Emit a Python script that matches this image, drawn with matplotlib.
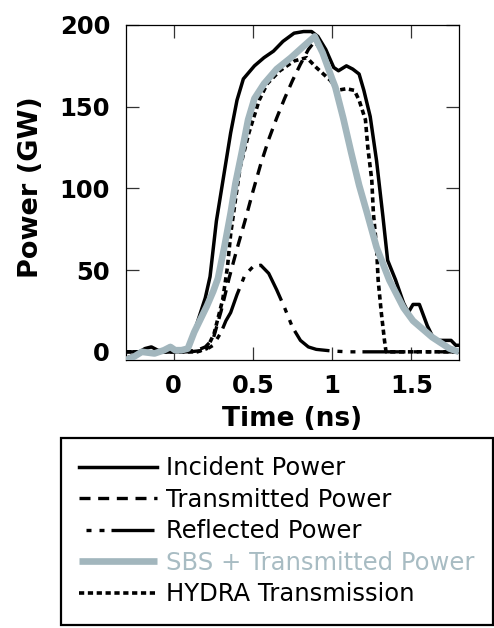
import matplotlib
matplotlib.use("Agg")
import matplotlib.pyplot as plt

# ---- data ----
t_inc = [-0.30,-0.25,-0.18,-0.14,-0.10,-0.05,0.00,0.05,0.09,0.13,0.17,0.20,0.23,0.27,0.31,0.36,
         0.40,0.44,0.51,0.57,0.63,0.69,0.76,0.82,0.87,0.91,0.96,1.01,1.04,1.09,1.13,1.17,1.20,
         1.24,1.28,1.32,1.35,1.40,1.45,1.48,1.51,1.55,1.60,1.64,1.68,1.75,1.78,1.80]
p_inc = [-4,-2,2,3,1,0,1,0.5,2,12,24,33,46,80,104,134,
         154,167,175,180,184,190,195,196,196,193,185,174,172,175,173,170,160,
         144,117,83,56,44,30,24,29,29,16,8,7,7,4,4]

t_tr = [-0.30,-0.10,0.05,0.15,0.20,0.25,0.30,0.35,0.40,0.45,0.50,0.55,0.60,0.65,0.70,0.75,0.80,0.85,
        0.89,0.94,1.00,1.07,1.12,1.17,1.22,1.28,1.36,1.45,1.51,1.63,1.74,1.80]
p_tr = [0,0,0,1,3,8,25,45,63,80,98,115,130,143,155,166,176,185,
        190,183,167,143,122,102,85,64,44,27,19,9,2,0]

t_ref = [-0.30,0.10,0.20,0.25,0.30,0.33,0.36,0.40,0.45,0.50,0.55,0.60,0.65,0.70,0.75,0.80,0.85,0.90,0.95,1.00,1.10,1.80]
p_ref = [0,0,1,4,12,19,24,35,47,52,53,48,38,27,15,7,3,1.5,1,0.5,0,0]

t_sbs = [-0.30,-0.25,-0.20,-0.12,-0.06,-0.02,0.01,0.05,0.09,0.13,0.17,0.21,0.25,0.28,0.32,0.36,0.39,0.43,0.47,0.51,
         0.57,0.65,0.74,0.82,0.89,0.94,1.00,1.02,1.07,1.12,1.17,1.22,1.28,1.36,1.45,1.51,1.63,1.74,1.80]
p_sbs = [-5,-3,0,-1,1,3,1,1,2,12,20,28,37,45,64,85,103,122,142,155,
         164,173,180,187,193,183,167,162,143,122,102,85,64,44,27,19,9,2,0]

t_hy = [-0.30,0.15,0.21,0.255,0.31,0.34,0.36,0.39,0.42,0.475,0.54,0.59,0.67,0.76,0.84,0.90,0.99,1.03,1.09,1.14,
        1.17,1.21,1.225,1.25,1.26,1.28,1.29,1.31,1.33,1.34,1.80]
p_hy = [0,0,2,11,32,52,72,93,113,134,154,164,172,178,180,174,166,160,161,160,
        154,142,125,105,85,64,44,24,7,0,0]

labels = ["Incident Power", "Transmitted Power", "Reflected Power",
          "SBS + Transmitted Power", "HYDRA Transmission"]
x_ticks = [0, 0.5, 1, 1.5]
x_tick_labels = ["0", "0.5", "1", "1.5"]
y_ticks = [0, 50, 100, 150, 200]

GRAY = "#a2b6bd"

plt.rcParams['font.family'] = ['DejaVu Sans']

fig = plt.figure(figsize=(4.94, 6.28), dpi=100)
ax = fig.add_axes([126/494, 1-360/628, 333/494, 335/628])

ax.plot(t_inc, p_inc, color="black", lw=2.5, label=labels[0], zorder=3)
ax.plot(t_tr, p_tr, color="black", lw=2.4, linestyle=(0, (3.3, 2.3)), label=labels[1], zorder=2)
ax.plot(t_ref, p_ref, color="black", lw=2.4,
        linestyle=(20.7, (1.5, 2.4, 1.5, 2.1, 12.9, 2.4)), label=labels[2], zorder=2)
ax.plot(t_sbs, p_sbs, color=GRAY, lw=4.8, label=labels[3], zorder=4, solid_capstyle="butt")
ax.plot(t_hy, p_hy, color="black", lw=2.6, linestyle=(0, (1.45, 1.0)), label=labels[4], zorder=2)

ax.set_xlim(-0.3, 1.8)
ax.set_ylim(-5, 200)
ax.set_xticks(x_ticks)
ax.set_xticklabels(x_tick_labels)
ax.set_yticks(y_ticks)

ax.tick_params(axis="both", which="both", direction="in", length=9.5, width=0.9,
               top=True, right=True, labelsize=17.5, color="#333333")
ax.tick_params(axis="x", pad=10)
ax.tick_params(axis="y", pad=11.5)
for lab in ax.get_xticklabels() + ax.get_yticklabels():
    lab.set_fontweight("bold")
for s in ax.spines.values():
    s.set_linewidth(0.9)

ax.set_xlabel("Time (ns)", fontsize=19, fontweight="bold")
ax.xaxis.set_label_coords(0.5, -0.137)
ax.xaxis.label.set_va("top")
ax.set_ylabel("Power (GW)", fontsize=19.5, fontweight="bold")
ax.yaxis.set_label_coords(-0.246, 0.516)

leg = fig.legend(loc="upper left",
                 bbox_to_anchor=(61/494, 0.0, 432/494, 1-438/628),
                 bbox_transform=fig.transFigure, mode="expand",
                 fontsize=17.5, handlelength=3.2, handletextpad=0.37,
                 borderpad=0.75, labelspacing=0.31, borderaxespad=0,
                 fancybox=False, framealpha=1, edgecolor="black")
leg.get_frame().set_linewidth(1.6)
leg.get_texts()[3].set_color("#a8bcc3")

fig.savefig("out.png", dpi=100)
